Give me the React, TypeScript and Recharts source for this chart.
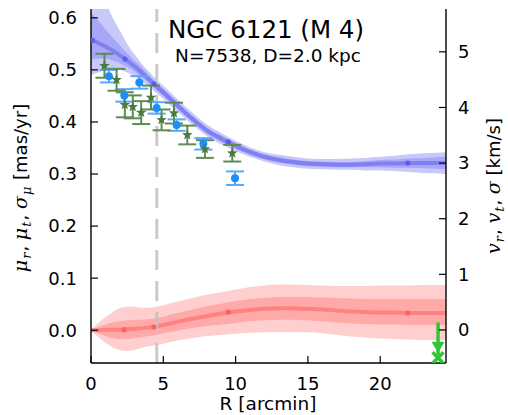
import React from 'react';
import {
  ComposedChart, Area, Line, Scatter, XAxis, YAxis, ErrorBar, ReferenceLine, Customized,
} from 'recharts';

// radial grid for the model bands (arcmin)
const R_GRID = [0, 0.5, 1, 1.5, 2, 2.5, 3, 3.5, 4, 4.5, 5, 6, 7, 8, 9, 10, 11, 12, 13, 14, 15, 16, 17, 18, 19, 20, 21, 22, 23, 24, 24.55];

// dispersion model (blue)
const BLUE_MID = [0.558, 0.552, 0.545, 0.537, 0.528, 0.518, 0.507, 0.495, 0.482, 0.469, 0.457, 0.431, 0.406, 0.384, 0.368, 0.354, 0.342, 0.333, 0.327, 0.323, 0.320, 0.319, 0.318, 0.318, 0.319, 0.320, 0.320, 0.321, 0.321, 0.321, 0.321];
const BLUE_OUT_LO = [0.490, 0.495, 0.500, 0.500, 0.500, 0.495, 0.488, 0.478, 0.468, 0.456, 0.444, 0.419, 0.395, 0.373, 0.357, 0.344, 0.333, 0.324, 0.317, 0.313, 0.310, 0.309, 0.308, 0.308, 0.307, 0.307, 0.306, 0.304, 0.302, 0.301, 0.300];
const BLUE_OUT_HI = [0.680, 0.655, 0.630, 0.600, 0.575, 0.550, 0.530, 0.512, 0.497, 0.482, 0.470, 0.443, 0.418, 0.395, 0.379, 0.364, 0.351, 0.342, 0.337, 0.333, 0.330, 0.329, 0.329, 0.330, 0.331, 0.333, 0.335, 0.338, 0.340, 0.341, 0.342];
const BLUE_IN_LO = [0.520, 0.522, 0.522, 0.518, 0.513, 0.506, 0.497, 0.486, 0.475, 0.462, 0.450, 0.425, 0.400, 0.378, 0.362, 0.349, 0.337, 0.328, 0.322, 0.318, 0.315, 0.314, 0.313, 0.313, 0.313, 0.313, 0.312, 0.312, 0.311, 0.310, 0.309];
const BLUE_IN_HI = [0.610, 0.595, 0.578, 0.562, 0.547, 0.532, 0.518, 0.505, 0.490, 0.476, 0.464, 0.437, 0.412, 0.390, 0.374, 0.359, 0.347, 0.338, 0.332, 0.328, 0.325, 0.324, 0.323, 0.323, 0.325, 0.327, 0.328, 0.330, 0.331, 0.332, 0.333];

// mean rotation model (red)
const RED_MID = [0, 0.000, 0.001, 0.001, 0.001, 0.002, 0.003, 0.004, 0.005, 0.007, 0.010, 0.016, 0.022, 0.027, 0.032, 0.036, 0.039, 0.041, 0.042, 0.042, 0.041, 0.040, 0.038, 0.036, 0.035, 0.034, 0.034, 0.033, 0.033, 0.033, 0.033];
const RED_OUT_LO = [0, -0.013, -0.024, -0.033, -0.038, -0.040, -0.038, -0.034, -0.031, -0.029, -0.026, -0.020, -0.015, -0.011, -0.009, -0.007, -0.005, -0.004, -0.004, -0.004, -0.004, -0.006, -0.009, -0.012, -0.014, -0.016, -0.017, -0.018, -0.019, -0.019, -0.019];
const RED_OUT_HI = [0, 0.014, 0.025, 0.035, 0.042, 0.045, 0.045, 0.043, 0.043, 0.045, 0.048, 0.055, 0.062, 0.068, 0.073, 0.078, 0.083, 0.086, 0.088, 0.088, 0.087, 0.086, 0.085, 0.085, 0.085, 0.086, 0.086, 0.086, 0.087, 0.087, 0.087];
const RED_IN_LO = [0, -0.006, -0.011, -0.015, -0.017, -0.017, -0.015, -0.013, -0.011, -0.009, -0.006, -0.001, 0.004, 0.008, 0.011, 0.014, 0.017, 0.019, 0.020, 0.020, 0.019, 0.017, 0.015, 0.013, 0.012, 0.011, 0.011, 0.010, 0.010, 0.010, 0.010];
const RED_IN_HI = [0, 0.006, 0.011, 0.015, 0.017, 0.019, 0.020, 0.020, 0.021, 0.023, 0.026, 0.033, 0.040, 0.046, 0.051, 0.056, 0.060, 0.062, 0.064, 0.064, 0.064, 0.063, 0.062, 0.061, 0.060, 0.060, 0.060, 0.060, 0.060, 0.060, 0.060];

// model knots
const BLUE_KNOT_R = [0.1, 2.35, 4.36, 9.5, 21.9];
const BLUE_KNOT_V = [0.557, 0.521, 0.473, 0.362, 0.321];
const RED_KNOT_R = [2.3, 4.35, 9.5, 21.9];
const RED_KNOT_V = [0.001, 0.006, 0.035, 0.033];

// binned data: blue circles
const BLUE_R = [1.24, 2.30, 3.34, 4.54, 5.92, 7.77, 9.96];
const BLUE_V = [0.488, 0.451, 0.476, 0.427, 0.394, 0.358, 0.292];
const BLUE_E = [0.012, 0.012, 0.012, 0.011, 0.011, 0.011, 0.013];

// binned data: green stars
const GREEN_R = [0.93, 1.77, 2.34, 2.89, 3.47, 4.15, 4.88, 5.74, 6.66, 7.88, 9.77];
const GREEN_V = [0.508, 0.481, 0.433, 0.429, 0.418, 0.447, 0.404, 0.417, 0.375, 0.348, 0.340];
const GREEN_E = [0.023, 0.021, 0.024, 0.022, 0.022, 0.023, 0.020, 0.020, 0.018, 0.017, 0.016];

// upper limit (arrow)
const LIMIT_R = [24.0];
const LIMIT_V = [-0.053];
const LIMIT_UP = [0.068];

const X_TICKS = [0, 5, 10, 15, 20];
const Y_TICKS = [0, 0.1, 0.2, 0.3, 0.4, 0.5, 0.6];
const KMS_TICKS = [0, 1, 2, 3, 4, 5];

const bandRows = R_GRID.map((R, i) => ({
  R,
  bMid: BLUE_MID[i],
  bOut: [BLUE_OUT_LO[i], BLUE_OUT_HI[i]],
  bIn: [BLUE_IN_LO[i], BLUE_IN_HI[i]],
  rMid: RED_MID[i],
  rOut: [RED_OUT_LO[i], RED_OUT_HI[i]],
  rIn: [RED_IN_LO[i], RED_IN_HI[i]],
}));
const blueKnots = BLUE_KNOT_R.map((R, i) => ({ R, v: BLUE_KNOT_V[i] }));
const redKnots = RED_KNOT_R.map((R, i) => ({ R, v: RED_KNOT_V[i] }));
const bluePts = BLUE_R.map((R, i) => ({ R, v: BLUE_V[i], e: BLUE_E[i] }));
const greenPts = GREEN_R.map((R, i) => ({ R, v: GREEN_V[i], e: GREEN_E[i] }));
const limitPts = LIMIT_R.map((R, i) => ({ R, v: LIMIT_V[i], up: [0, LIMIT_UP[i]] }));

const FONT = 'DejaVu Sans';
const MATH = 'DejaVu Serif';
const tickStyle = { fill: '#000', fontSize: 18, fontFamily: FONT };
const axisLine = { stroke: '#000', strokeWidth: 1.4 };
const tickLine = { stroke: '#000', strokeWidth: 1.2 };

const Star = (p: any) => {
  const { cx, cy } = p;
  const pts: string[] = [];
  for (let k = 0; k < 10; k++) {
    const r = k % 2 === 0 ? 5.5 : 2.3;
    const a = -Math.PI / 2 + (k * Math.PI) / 5;
    pts.push(`${cx + r * Math.cos(a)},${cy + r * Math.sin(a)}`);
  }
  return <polygon points={pts.join(' ')} fill="#4b7a40" />;
};

const Dot = (color: string, r: number) => (p: any) => <circle cx={p.cx} cy={p.cy} r={r} fill={color} />;

const LimitMark = (p: any) => {
  const { cx, cy } = p;
  const c = '#33c633';
  return (
    <g>
      <polygon points={`${cx - 6.5},${cy - 16} ${cx + 6.5},${cy - 16} ${cx},${cy - 5}`} fill={c} />
      <line x1={cx - 5.5} y1={cy - 5.5} x2={cx + 5.5} y2={cy + 5.5} stroke={c} strokeWidth={3.5} />
      <line x1={cx - 5.5} y1={cy + 5.5} x2={cx + 5.5} y2={cy - 5.5} stroke={c} strokeWidth={3.5} />
    </g>
  );
};

const Sym = ({ children }: { children: React.ReactNode }) => (
  <tspan fontFamily={MATH} fontStyle="italic" fontSize={19}>{children}</tspan>
);
const Sub = ({ children }: { children: React.ReactNode }) => (
  <tspan fontFamily={MATH} fontStyle="italic" fontSize={13} dy={4} dx={1}>{children}</tspan>
);
const Sep = ({ children }: { children: React.ReactNode }) => (
  <tspan dy={-4} dx={1}>{children}</tspan>
);

const Labels = () => (
  <g fontFamily={FONT} fill="#000">
    <text x={266} y={38} fontSize={24.5} textAnchor="middle">NGC 6121 (M 4)</text>
    <text x={268} y={62} fontSize={18.5} textAnchor="middle">N=7538, D=2.0 kpc</text>
    <text x={268} y={410} fontSize={18.5} textAnchor="middle">R [arcmin]</text>
    <text transform="translate(27,188) rotate(-90)" fontSize={18} textAnchor="middle">
      <Sym>μ</Sym><Sub>r</Sub><Sep>,  </Sep>
      <Sym>μ</Sym><Sub>t</Sub><Sep>,  </Sep>
      <Sym>σ</Sym><Sub>μ</Sub><Sep> [mas/yr]</Sep>
    </text>
    <text transform="translate(500,186) rotate(-90)" fontSize={18} textAnchor="middle">
      <Sym>v</Sym><Sub>r</Sub><Sep>,  </Sep>
      <Sym>v</Sym><Sub>t</Sub><Sep>,  </Sep>
      <Sym>σ</Sym><tspan> [km/s]</tspan>
    </text>
  </g>
);

export default function App() {
  return (
    <div style={{ position: 'absolute', left: 0, top: 0, background: '#fff' }}>
      <ComposedChart width={508} height={415} data={bandRows} margin={{ top: 9, right: 0, bottom: 0, left: 0 }}>
        <XAxis xAxisId="bottom" dataKey="R" type="number" domain={[0, 24.55]} allowDataOverflow ticks={X_TICKS}
          height={52} tick={tickStyle} tickSize={-7} tickMargin={21} axisLine={axisLine} tickLine={tickLine} />
        <XAxis xAxisId="top" orientation="top" type="number" domain={[0, 24.55]} allowDataOverflow ticks={X_TICKS}
          height={0} tick={false} tickSize={-7} axisLine={axisLine} tickLine={tickLine} />
        <YAxis yAxisId="left" type="number" domain={[-0.063, 0.617]} allowDataOverflow ticks={Y_TICKS} width={91}
          tickFormatter={(v: number) => v.toFixed(1)} tick={tickStyle} tickSize={-7} tickMargin={21}
          axisLine={axisLine} tickLine={tickLine} />
        <YAxis yAxisId="right" orientation="right" type="number" domain={[-0.594, 5.77]} allowDataOverflow ticks={KMS_TICKS}
          width={62} tick={tickStyle} tickSize={-7} tickMargin={19} axisLine={axisLine} tickLine={tickLine} />

        <Area xAxisId="bottom" yAxisId="left" type="monotone" dataKey="rOut" stroke="none" fill="#ffcece" fillOpacity={1} isAnimationActive={false} />
        <Area xAxisId="bottom" yAxisId="left" type="monotone" dataKey="rIn" stroke="none" fill="#ffa9a9" fillOpacity={1} isAnimationActive={false} />
        <Line xAxisId="bottom" yAxisId="left" type="monotone" dataKey="rMid" stroke="#ff8282" strokeWidth={4} dot={false} isAnimationActive={false} />
        <Area xAxisId="bottom" yAxisId="left" type="monotone" dataKey="bOut" stroke="none" fill="#c8c8fb" fillOpacity={1} isAnimationActive={false} />
        <Area xAxisId="bottom" yAxisId="left" type="monotone" dataKey="bIn" stroke="none" fill="#a7a7f8" fillOpacity={1} isAnimationActive={false} />
        <Line xAxisId="bottom" yAxisId="left" type="monotone" dataKey="bMid" stroke="#8080f2" strokeWidth={4} dot={false} isAnimationActive={false} />

        <ReferenceLine xAxisId="bottom" yAxisId="left" x={4.55} stroke="#c4c4c4" strokeOpacity={0.9} strokeWidth={3} strokeDasharray="20 11" />

        <Scatter xAxisId="bottom" yAxisId="left" data={redKnots} dataKey="v" shape={Dot('#ff6060', 2.6)} isAnimationActive={false} />
        <Scatter xAxisId="bottom" yAxisId="left" data={blueKnots} dataKey="v" shape={Dot('#5b5bf0', 2.6)} isAnimationActive={false} />

        <Scatter xAxisId="bottom" yAxisId="left" data={bluePts} dataKey="v" shape={Dot('#1e8ef4', 4)} isAnimationActive={false}>
          <ErrorBar dataKey="e" direction="y" width={9} stroke="#55aaff" strokeWidth={2} />
        </Scatter>
        <Scatter xAxisId="bottom" yAxisId="left" data={greenPts} dataKey="v" shape={Star} isAnimationActive={false}>
          <ErrorBar dataKey="e" direction="y" width={9} stroke="#5e8c54" strokeWidth={2} />
        </Scatter>
        <Scatter xAxisId="bottom" yAxisId="left" data={limitPts} dataKey="v" shape={LimitMark} isAnimationActive={false}>
          <ErrorBar dataKey="up" direction="y" width={0} stroke="#33c633" strokeWidth={3.5} />
        </Scatter>

        <Customized component={Labels} />
      </ComposedChart>
    </div>
  );
}
